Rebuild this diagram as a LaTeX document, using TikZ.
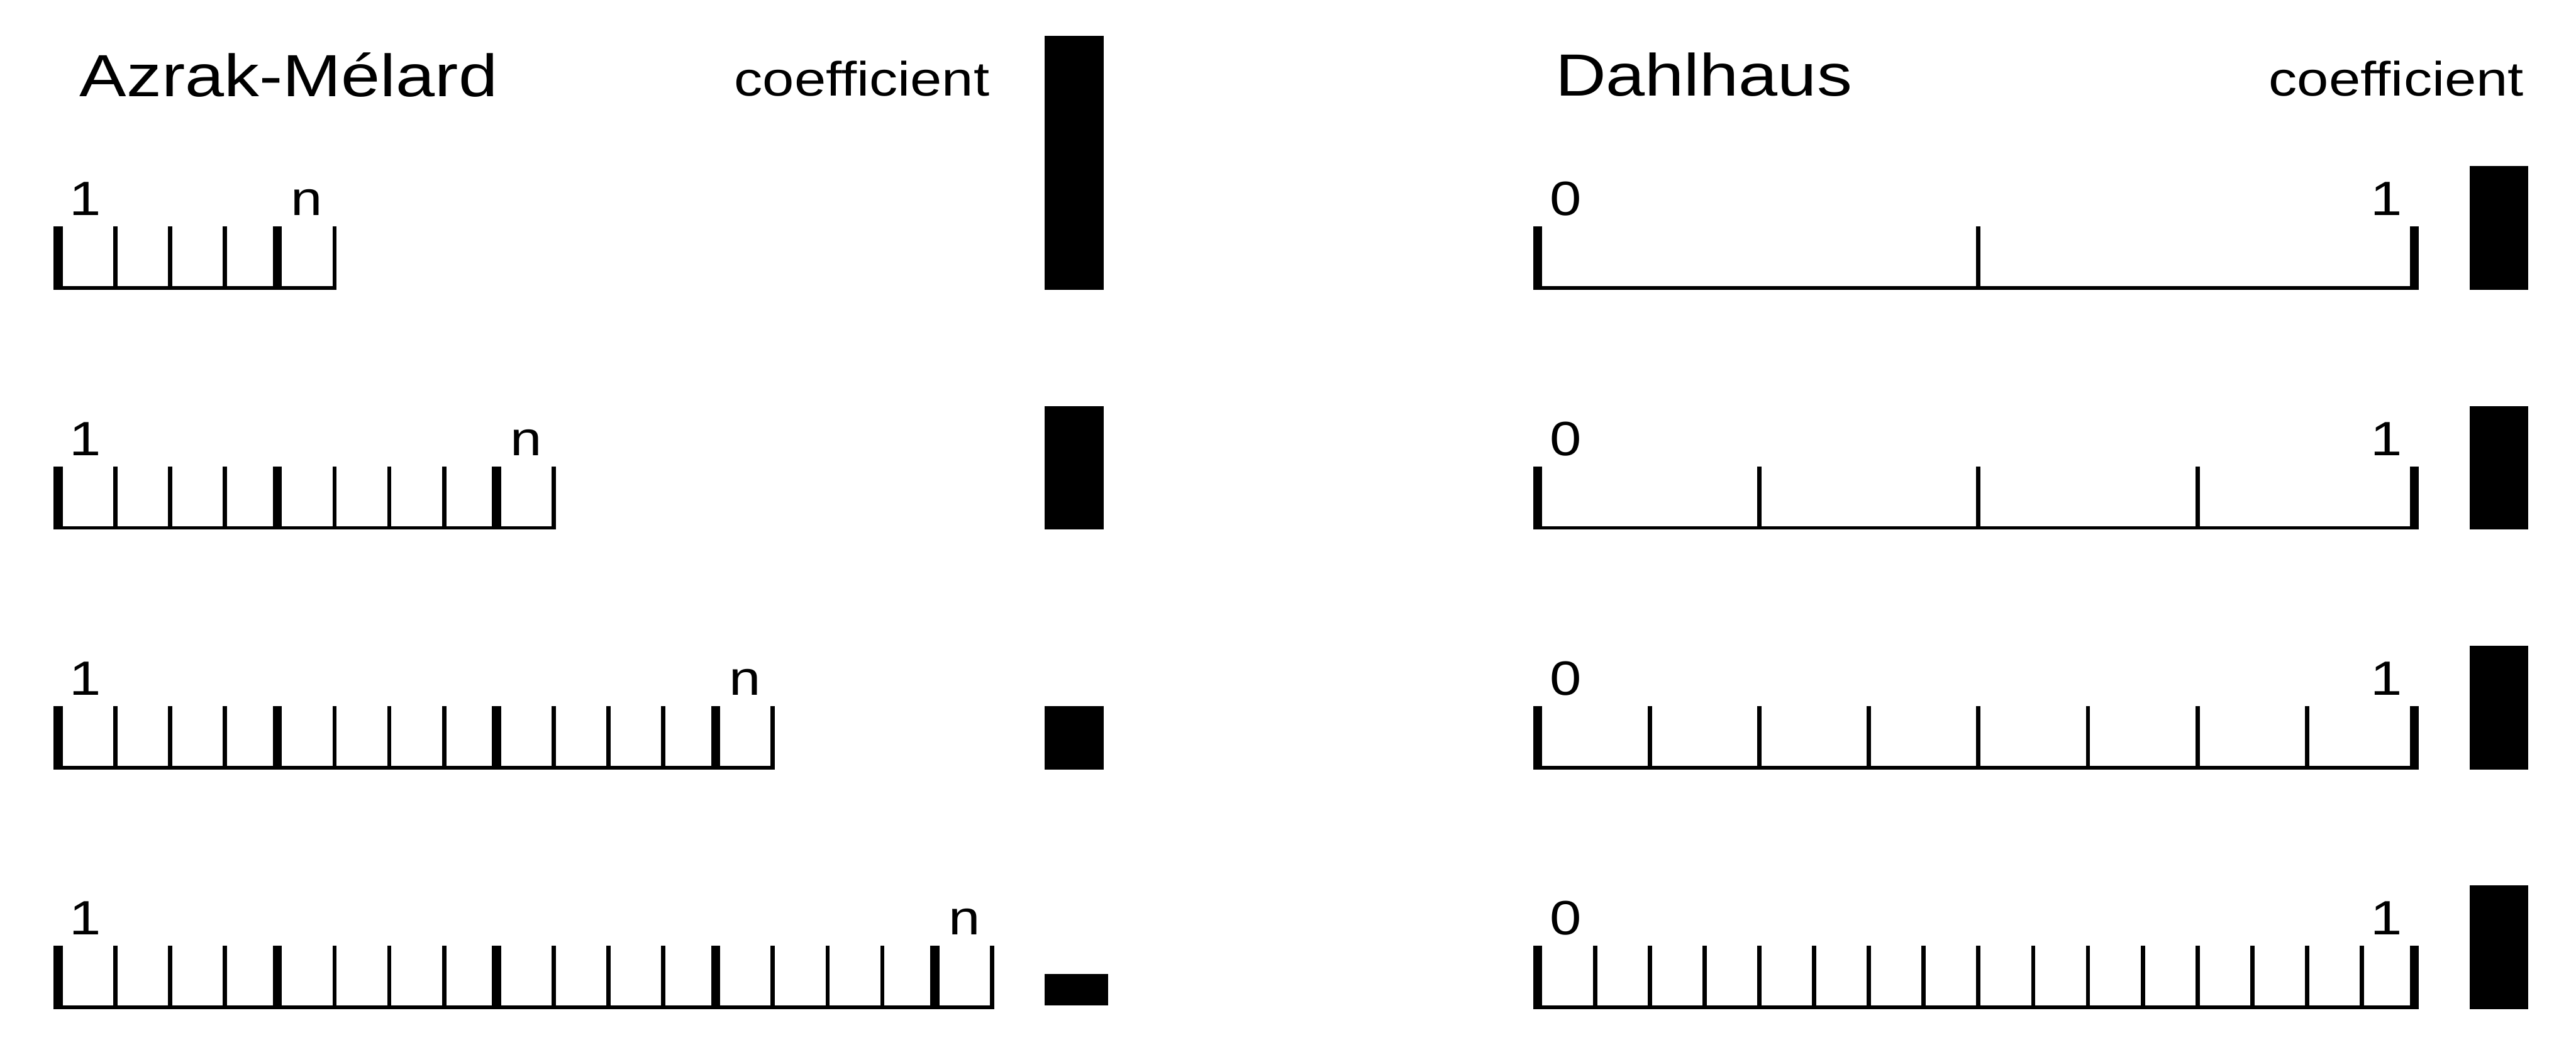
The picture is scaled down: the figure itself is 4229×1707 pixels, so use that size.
\documentclass[tikz,border=0pt]{standalone}
\usepackage{fontspec}
\setmainfont{Liberation Sans}
\usepackage{graphicx}
\newcommand{\widetxt}[1]{\scalebox{1.18}[1]{#1}}
\begin{document}
\begin{tikzpicture}[x=0.01cm,y=-0.01cm,
  titletext/.style={anchor=base,inner sep=0pt,font=\fontsize{27.8}{30}\selectfont},
  smalltext/.style={anchor=base,inner sep=0pt,font=\fontsize{22.5}{25}\selectfont},
  ink/.style={fill=black}]
\useasboundingbox (0,0) rectangle (4229,1707);
% headings
\node[titletext] (amtitle) at (474,158) {\widetxt{Azrak-Mélard}};
\node[smalltext] (amcoef) at (1415,157) {\widetxt{coefficient}};
\node[titletext] (dtitle) at (2797,157) {\widetxt{Dahlhaus}};
\node[smalltext] (dcoef) at (3934,157) {\widetxt{coefficient}};
% rulers
\foreach \r in {0,1,2,3}{
  \pgfmathsetmacro{\dy}{393.67*\r}
  % Azrak-Melard ruler
  \pgfmathtruncatemacro{\N}{4*\r+5}
  \foreach \k in {0,...,\N}{
    \pgfmathsetmacro{\xr}{103+89.94*\k}
    \pgfmathsetmacro{\w}{mod(\k,4)==0 ? 15 : 7}
    \fill[ink] (\xr-\w,372+\dy) rectangle (\xr,476+\dy);
  }
  \fill[ink] (88,470+\dy) rectangle ({103+89.94*\N},476+\dy);
  \node[smalltext] (amone-\r) at (140,354+\dy) {\widetxt{1}};
  \node[smalltext] (amn-\r) at ({99+89.94*(\N-0.5)},354+\dy) {\widetxt{n}};
  % Dahlhaus ruler
  \pgfmathtruncatemacro{\M}{2^(\r+1)}
  \foreach \k in {0,...,\M}{
    \pgfmathsetmacro{\xr}{2532+1439/\M*\k}
    \pgfmathsetmacro{\w}{(\k==0 || \k==\M) ? 15 : 7}
    \fill[ink] (\xr-\w,372+\dy) rectangle (\xr,476+\dy);
  }
  \fill[ink] (2517,470+\dy) rectangle (3971,476+\dy);
  \node[smalltext] (dzero-\r) at (2570,354+\dy) {\widetxt{0}};
  \node[smalltext] (done-\r) at (3918,354+\dy) {\widetxt{1}};
  % Dahlhaus coefficient bar
  \fill[ink] (4054,273+\dy) rectangle (4151,476+\dy);
}
% Azrak-Melard coefficient bars
\foreach \t/\b/\xr in {59/476/1812, 667/869/1812, 1159/1264/1812, 1599/1651/1819}{
  \fill[ink] (1715,\t) rectangle (\xr,\b);
}
\end{tikzpicture}
\end{document}
